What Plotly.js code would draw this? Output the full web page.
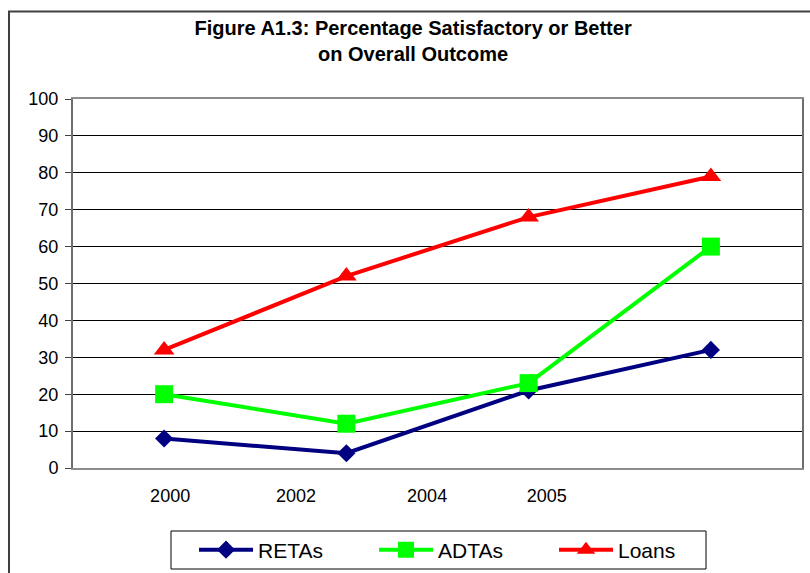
<!DOCTYPE html>
<html>
<head>
<meta charset="utf-8">
<script src="https://cdn.plot.ly/plotly-3.0.1.min.js"></script>
<style>
  html, body { margin: 0; padding: 0; background: #fff; }
  #chart { width: 810px; height: 573px; }
</style>
</head>
<body>
<div id="chart"></div>
<script>
// ---- data ----
var pointIndex = [0, 1, 2, 3];
var retas = [8, 4, 21, 32];
var adtas = [20, 12, 23, 60];
var loans = [32, 52, 68, 79];
var tickLabels = ['2000', '2002', '2004', '2005'];
var seriesNames = ['RETAs', 'ADTAs', 'Loans'];

// label positions along the axis (as drawn in the original, offset from the points)
var tickPositions = [0.033, 0.724, 1.443, 2.10];

var FONT = 'Liberation Sans, Arial, Helvetica, sans-serif';

var traces = [
  {
    x: pointIndex, y: retas, name: seriesNames[0], type: 'scatter', mode: 'lines+markers',
    line: { color: '#000080', width: 4 },
    marker: { symbol: 'diamond', size: 14, color: '#000080' }
  },
  {
    x: pointIndex, y: adtas, name: seriesNames[1], type: 'scatter', mode: 'lines+markers',
    line: { color: '#00FF00', width: 4 },
    marker: { symbol: 'square', size: 18, color: '#00FF00' }
  },
  {
    x: pointIndex, y: loans, name: seriesNames[2], type: 'scatter', mode: 'lines+markers',
    line: { color: '#FF0000', width: 4 },
    marker: { symbol: 'triangle-up', size: 18, color: '#FF0000' }
  }
];

var layout = {
  width: 810,
  height: 573,
  margin: { l: 73, r: 8, t: 99, b: 105, pad: 0, autoexpand: false },
  paper_bgcolor: '#ffffff',
  plot_bgcolor: '#ffffff',
  font: { family: FONT, color: '#000000' },
  title: {
    text: 'Figure A1.3: Percentage Satisfactory or Better<br>on Overall Outcome',
    font: { family: FONT, size: 20, color: '#000000', weight: 'bold' },
    xref: 'container', x: 0.51, xanchor: 'center',
    yref: 'container', y: 0.9385, yanchor: 'middle'
  },
  xaxis: {
    range: [-0.5, 3.5],
    tickmode: 'array',
    tickvals: tickPositions,
    ticktext: tickLabels,
    showgrid: false,
    zeroline: false,
    showline: true,
    linecolor: '#8c8c8c',
    linewidth: 2,
    mirror: true,
    ticks: '',
    ticklabelstandoff: 10,
    tickfont: { family: FONT, size: 18, color: '#000000' },
    fixedrange: true
  },
  yaxis: {
    range: [0, 100],
    tickmode: 'linear',
    tick0: 0,
    dtick: 10,
    showgrid: true,
    gridcolor: '#000000',
    gridwidth: 1,
    zeroline: false,
    showline: true,
    linecolor: '#6e6e6e',
    linewidth: 2,
    mirror: true,
    ticks: 'outside',
    ticklen: 6,
    tickcolor: '#404040',
    tickwidth: 1,
    ticklabelstandoff: 3,
    tickfont: { family: FONT, size: 18, color: '#000000' },
    fixedrange: true
  },
  showlegend: true,
  legend: {
    orientation: 'h',
    x: 0.166, xanchor: 'left',
    y: -0.2222, yanchor: 'middle',
    borderwidth: 0,
    bgcolor: 'rgba(0,0,0,0)',
    font: { family: FONT, size: 21, color: '#000000' },
    itemwidth: 54,
    entrywidth: 111,
    entrywidthmode: 'pixels',
    traceorder: 'normal'
  },
  shapes: [
    // outer chart frame
    {
      type: 'rect', xref: 'paper', yref: 'paper',
      x0: -0.0878, x1: 1.3, y0: -0.6, y1: 1.237,
      line: { color: '#404040', width: 2 },
      fillcolor: 'rgba(0,0,0,0)',
      layer: 'above'
    },
    // legend box
    {
      type: 'rect', xref: 'paper', yref: 'paper',
      x0: (171 - 73) / 729, x1: (706 - 73) / 729,
      y0: (468 - 569) / 369, y1: (468 - 531) / 369,
      line: { color: '#000000', width: 1 },
      fillcolor: 'rgba(0,0,0,0)',
      layer: 'above'
    }
  ]
};

Plotly.newPlot('chart', traces, layout, { displayModeBar: false, staticPlot: true });
</script>
</body>
</html>
